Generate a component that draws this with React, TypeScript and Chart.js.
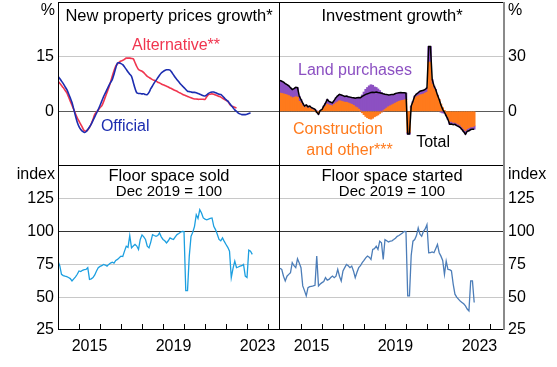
import React, { useEffect, useRef } from "react";
import { Chart, registerables } from "chart.js";

Chart.register(...registerables);

const FONT = "'Liberation Sans', Arial, Helvetica, sans-serif";
const W = 557;
const H = 367;

// Monthly series; first value is Dec 2013 (plotted at 2014.0)
const FIRST_MONTH = 2014;

const officialGrowth = [9.6, 9.0, 8.3, 7.6, 6.8, 6.0, 4.9, 3.7, 2.4, 0.6, -1.3, -3.0, -4.2, -5.0, -5.5, -5.8, -5.6, -5.0, -4.3, -3.5, -2.5, -1.5, -0.5, 0.5, 1.6, 2.8, 4.0, 5.0, 6.0, 7.0, 7.9, 8.7, 10.2, 11.9, 13.3, 13.3, 13.1, 12.8, 12.2, 11.5, 10.8, 10.2, 9.6, 8.0, 6.3, 5.1, 4.9, 4.9, 4.8, 4.8, 4.6, 4.6, 5.2, 6.2, 7.0, 7.8, 8.5, 9.2, 9.9, 10.5, 10.9, 11.2, 11.4, 11.4, 11.3, 10.7, 10.0, 9.3, 8.7, 8.1, 7.5, 7.0, 6.5, 6.0, 5.5, 5.4, 5.3, 5.2, 5.2, 5.1, 4.9, 4.7, 4.5, 4.3, 4.2, 4.5, 4.9, 5.2, 5.3, 5.3, 5.1, 4.9, 4.7, 4.6, 4.2, 3.7, 3.2, 2.8, 2.2, 1.6, 1.0, 0.4, 0.0, -0.5, -0.7, -0.9, -0.9, -0.9, -0.8, -0.6, -0.4];

const alternativeGrowth = [8.3, 7.7, 7.1, 6.5, 5.8, 5.1, 4.0, 2.8, 1.7, 0.5, -0.7, -1.8, -2.7, -3.6, -4.5, -5.3, -5.4, -5.1, -4.4, -3.4, -2.2, -0.8, -0.2, 0.4, 1.0, 1.5, 2.6, 3.9, 5.2, 6.5, 8.0, 9.6, 11.1, 12.4, 13.0, 13.5, 13.8, 14.0, 14.3, 14.6, 14.6, 14.6, 14.5, 14.4, 13.4, 12.3, 11.5, 11.2, 11.0, 10.6, 10.1, 9.6, 9.3, 9.0, 8.7, 8.5, 8.3, 8.0, 7.8, 7.5, 7.3, 7.1, 6.9, 6.7, 6.4, 6.2, 5.9, 5.7, 5.5, 5.2, 5.0, 4.7, 4.5, 4.3, 4.1, 3.9, 3.7, 3.5, 3.4, 3.4, 3.3, 3.3, 3.3, 3.3, 3.3, 4.0, 4.6, 4.7, 4.8, 4.7, 4.5, 4.3, 4.1, 3.9, 3.6, 3.3, 3.0, 2.8, 2.0, 1.5, 1.3, 1.1, 0.9];

const investTotal = [17.0, 16.5, 16.0, 15.2, 14.7, 14.0, 13.0, 12.0, 12.5, 13.2, 13.0, 8.4, 6.5, 4.5, 2.9, 3.5, 2.5, 2.9, 2.0, 1.6, 1.1, -0.5, -1.6, 0.5, 1.0, 2.9, 4.5, 6.5, 5.5, 5.0, 4.7, 6.0, 7.5, 8.5, 9.3, 9.0, 8.6, 8.2, 8.4, 8.0, 7.8, 7.6, 7.5, 7.2, 7.4, 7.6, 7.5, 8.2, 8.8, 9.3, 9.6, 10.0, 10.3, 10.5, 10.4, 10.6, 10.3, 10.2, 9.9, 9.6, 9.4, 9.3, 9.0, 9.1, 9.3, 9.3, 9.8, 10.0, 10.2, 10.3, 10.2, 10.2, 10.0, -12.5, -12.5, 2.9, 5.5, 8.4, 9.5, 10.2, 11.0, 11.3, 11.6, 12.0, 12.9, 35.6, 35.6, 17.5, 14.0, 12.0, 9.0, 6.5, 3.5, 1.1, -0.5, -2.5, -4.5, -7.1, -7.0, -7.3, -7.1, -7.8, -8.3, -8.9, -10.0, -11.2, -12.5, -11.0, -10.7, -10.0, -9.8, -9.8];

const investConstruction = [10.0, 9.8, 9.6, 9.3, 9.0, 8.6, 8.0, 7.4, 7.6, 8.0, 7.8, 5.5, 4.5, 3.0, 2.0, 2.5, 1.6, 2.0, 1.2, 0.8, 0.5, -0.6, -1.0, 0.3, 0.6, 1.8, 2.8, 4.0, 3.5, 3.2, 3.0, 3.8, 4.6, 5.2, 5.8, 5.6, 5.3, 5.0, 5.0, 4.6, 4.2, 3.8, 3.3, 2.5, 2.0, 1.2, 0.2, -0.8, -1.8, -2.8, -3.5, -4.0, -4.3, -3.8, -3.0, -2.5, -2.0, -1.2, -0.5, 0.2, 1.0, 1.8, 2.5, 3.0, 3.5, 4.0, 4.5, 5.0, 5.5, 5.8, 6.0, 6.2, 6.5, -11.5, -11.5, 2.0, 4.5, 7.0, 8.0, 8.5, 9.0, 9.2, 9.5, 10.0, 10.5, 27.0, 27.0, 15.0, 12.5, 11.0, 8.5, 6.5, 4.0, 2.0, 0.5, -1.5, -3.0, -5.5, -5.5, -6.0, -6.0, -6.5, -7.0, -7.5, -8.5, -9.5, -10.5, -9.5, -9.0, -8.5, -8.5, -8.0];

const investLand = [7.0, 6.7, 6.4, 5.9, 5.7, 5.4, 5.0, 4.6, 4.9, 5.2, 5.2, 2.9, 2.0, 1.5, 0.9, 1.0, 0.9, 0.9, 0.8, 0.8, 0.6, 0.1, -0.6, 0.2, 0.4, 1.1, 1.7, 2.5, 2.0, 1.8, 1.7, 2.2, 2.9, 3.3, 3.5, 3.4, 3.3, 3.2, 3.4, 3.4, 3.6, 3.8, 4.2, 4.7, 5.4, 6.4, 7.3, 9.0, 10.6, 12.1, 13.1, 14.0, 14.6, 14.3, 13.4, 13.1, 12.3, 11.4, 10.4, 9.4, 8.4, 7.5, 6.5, 6.1, 5.8, 5.3, 5.3, 5.0, 4.7, 4.5, 4.2, 4.0, 3.5, -1.0, -1.0, 0.9, 1.0, 1.4, 1.5, 1.7, 2.0, 2.1, 2.1, 2.0, 2.4, 8.6, 8.6, 2.5, 1.5, 1.0, 0.5, 0.0, -0.5, -0.9, -1.0, -1.0, -1.5, -1.6, -1.5, -1.3, -1.1, -1.3, -1.3, -1.4, -1.5, -1.7, -2.0, -1.5, -1.7, -1.5, -1.3, -1.8];

const floorSold = [77.5, 74, 67.4, 66.5, 66, 65.7, 65, 64.2, 62.4, 64, 65.5, 67.5, 70, 69.5, 70.5, 71, 71.2, 72.5, 63.6, 64, 64.9, 67, 70, 72.5, 73.5, 74, 75, 74.5, 73.7, 75, 76, 76.7, 76, 78, 78.8, 80, 81.3, 81, 85.1, 88.9, 88, 97, 87.6, 89, 90.2, 89, 86.4, 94, 97.5, 96, 94, 88.9, 87.6, 92, 97.7, 97, 96.4, 97, 99, 96, 94, 93, 91.4, 93, 95.2, 94.5, 94, 96, 97.7, 98.5, 99.5, 100.2, 100, 55, 55, 81.3, 96.4, 99.5, 104, 112.9, 110, 116.7, 114.2, 110.4, 109.5, 109, 109.5, 110, 110.4, 104, 101.5, 98, 94, 93, 95.2, 92.5, 90.2, 88, 85.1, 64.9, 72, 77.5, 72.5, 73, 73.7, 74, 75, 66.1, 65, 85.8, 85, 82.6];

const floorStarted = [72, 71.2, 66, 62.4, 66, 67.4, 68.7, 76.3, 74, 72.5, 79.3, 76, 72.5, 58.6, 55, 51, 57.3, 58, 58.3, 58.6, 59.1, 81.3, 58.6, 60, 61.1, 62, 64.9, 63, 63.6, 65, 66.1, 64.9, 66, 71.2, 66, 62.4, 70, 72.5, 75, 74, 72.5, 73.7, 70, 64.9, 69, 72.5, 74, 76.3, 78, 80, 81.3, 80.5, 78.8, 86.4, 87, 88.9, 86.4, 92.7, 91.5, 78.8, 93.9, 93, 92, 92.7, 93, 93.9, 95, 96.4, 97, 98, 99, 100.2, 100, 51, 51, 82, 92.7, 93.9, 97, 102.8, 98, 96.4, 100.2, 102, 105.3, 83.9, 84, 84.5, 83.9, 87, 90.2, 83.9, 81.3, 78, 67.4, 77.5, 71.2, 71, 70, 60, 52.3, 50, 48.5, 47, 46, 45, 43.4, 41, 39.6, 62.4, 62.4, 46];

const yearMarks = [2015, 2016, 2017, 2018, 2019, 2020, 2021, 2022, 2023, 2024];
const xLabelYears = [2015, 2019, 2023];

const C_OFFICIAL = "#1c2db0";
const C_ALT = "#f0354f";
const C_LAND = "#8c50c2";
const C_CONS = "#ff7a1c";
const C_SOLD = "#1c9fe0";
const C_STARTED = "#4c7db8";

const series = (vals: number[]) => vals.map((v, i) => ({ x: FIRST_MONTH + i / 12, y: v }));

const panelPlugin = {
  id: "panel",
  afterDraw(chart: any, _args: any, o: any) {
    const { ctx, chartArea: a, scales } = chart;
    const xs = scales.x;
    const ys = scales.y;
    ctx.save();
    ctx.textAlign = "center";
    ctx.textBaseline = "middle";
    ctx.font = `16px ${FONT}`;
    for (const l of o.labels || []) {
      ctx.fillStyle = l.color;
      ctx.fillText(l.text, xs.getPixelForValue(l.x), ys.getPixelForValue(l.y));
    }
    ctx.fillStyle = "#000";
    ctx.font = `16.5px ${FONT}`;
    const cx = (a.left + a.right) / 2;
    ctx.fillText(o.title, cx, a.top + o.titleDy);
    if (o.subtitle) {
      ctx.font = `15px ${FONT}`;
      ctx.fillText(o.subtitle, cx, a.top + o.subtitleDy);
    }
    ctx.font = `16px ${FONT}`;
    if (o.unitSide === "left") {
      ctx.textAlign = "right";
      ctx.fillText(o.unit, a.left - 3, a.top + o.unitDy);
    } else {
      ctx.textAlign = "left";
      ctx.fillText(o.unit, a.right + 4, a.top + o.unitDy);
    }
    ctx.lineWidth = 1;
    ctx.strokeStyle = "#000";
    if (o.yearMarks) {
      ctx.beginPath();
      for (const yr of o.yearMarks) {
        const px = Math.round(xs.getPixelForValue(yr)) + 0.5;
        if (px > a.left + 1 && px < a.right - 1) {
          ctx.moveTo(px, a.bottom);
          ctx.lineTo(px, a.bottom - 6);
        }
      }
      ctx.stroke();
    }
    const f = o.frame;
    const seg = (x1: number, y1: number, x2: number, y2: number, color: string, w: number) => {
      ctx.strokeStyle = color;
      ctx.lineWidth = w;
      ctx.beginPath();
      ctx.moveTo(x1, y1);
      ctx.lineTo(x2, y2);
      ctx.stroke();
    };
    const L = Math.round(a.left) + 0.5;
    const R = Math.round(a.right) - 0.5;
    const T = Math.round(a.top) + 0.5;
    const B = Math.round(a.bottom) - 0.5;
    if (f.top) seg(a.left, T, a.right, T, f.top, 1);
    if (f.bottom) seg(a.left, B, a.right, B, f.bottom, 1);
    if (f.left) seg(L, a.top, L, a.bottom, f.left, 1);
    if (f.right) seg(R, a.top, R, a.bottom, f.right, 1);
    if (f.rightGray) seg(Math.round(a.right), a.top, Math.round(a.right), a.bottom, f.rightGray, 2);
    ctx.restore();
  },
};

const gridColor = (strong: number, strongColor: string, hidden: number[]) => (c: any) => {
  const v = c.tick ? c.tick.value : null;
  if (v === null || hidden.includes(v)) return "rgba(0,0,0,0)";
  return v === strong ? strongColor : "#c8c8c8";
};

const tickFont = { family: FONT, size: 16 };

function yAxis(side: "left" | "right", min: number, max: number, step: number, strong: number, strongColor: string, shown: number[]) {
  return {
    position: side,
    min,
    max,
    afterFit: (s: any) => {
      s.width = side === "left" ? 58 : W - 504;
      s.paddingTop = 0;
      s.paddingBottom = 0;
    },
    ticks: {
      stepSize: step,
      font: tickFont,
      color: "#000",
      padding: 4,
      callback: (v: any) => (shown.includes(v) ? String(v) : ""),
    },
    grid: { drawTicks: false, color: gridColor(strong, strongColor, [min, max]), lineWidth: 1 },
    border: { display: false },
  };
}

function xAxisHidden(max: number) {
  return { type: "linear", display: false, min: 2014, max, offset: false };
}

function xAxisYears(max: number) {
  return {
    type: "linear",
    position: "bottom",
    min: 2014,
    max,
    offset: false,
    afterFit: (s: any) => {
      s.height = H - 330;
      s.paddingLeft = 0;
      s.paddingRight = 0;
    },
    afterBuildTicks: (s: any) => {
      s.ticks = xLabelYears.map((y) => ({ value: y + 0.5 }));
    },
    ticks: {
      font: tickFont,
      color: "#000",
      padding: 7,
      maxRotation: 0,
      autoSkip: false,
      callback: (v: any) => String(Math.floor(v)),
    },
    grid: { display: false, drawTicks: false },
    border: { display: false },
  };
}

const baseOpts = {
  responsive: false,
  animation: false,
  devicePixelRatio: 1,
  events: [],
};

function makeConfigs(): any[] {
  const tl = {
    type: "line",
    data: {
      datasets: [
        { data: series(officialGrowth), borderColor: C_OFFICIAL, borderWidth: 1.6, pointRadius: 0, tension: 0.3 },
        { data: series(alternativeGrowth), borderColor: C_ALT, borderWidth: 1.6, pointRadius: 0, tension: 0.3 },
      ],
    },
    options: {
      ...baseOpts,
      layout: { padding: { left: 0, top: 2, right: W - 280, bottom: H - 166 } },
      scales: {
        x: xAxisHidden(2024.57),
        y: yAxis("left", -15, 30, 15, 0, "#5a5a5a", [0, 15]),
      },
      plugins: {
        legend: { display: false },
        tooltip: { enabled: false },
        panel: {
          title: "New property prices growth*",
          titleDy: 14,
          unit: "%",
          unitSide: "left",
          unitDy: 9,
          labels: [
            { text: "Alternative**", x: 2019.62, y: 18, color: C_ALT },
            { text: "Official", x: 2017.2, y: -4.2, color: C_OFFICIAL },
          ],
          frame: { top: "#000", bottom: "#000", left: "#000", right: "#000" },
        },
      },
    },
    plugins: [panelPlugin],
  };

  const tr = {
    type: "bar",
    data: {
      datasets: [
        { type: "line", label: "Total", data: series(investTotal), borderColor: "#000", borderWidth: 1.5, pointRadius: 0, tension: 0, stack: "total" },
        { type: "bar", label: "Construction and other", data: series(investConstruction), backgroundColor: C_CONS, stack: "inv", barThickness: 2 },
        { type: "bar", label: "Land purchases", data: series(investLand), backgroundColor: C_LAND, stack: "inv", barThickness: 2 },
      ],
    },
    options: {
      ...baseOpts,
      layout: { padding: { left: 280, top: 2, right: 0, bottom: H - 166 } },
      scales: {
        x: { ...xAxisHidden(2024.67), stacked: true },
        y: { ...yAxis("right", -30, 60, 30, 0, "#5a5a5a", [0, 30]), stacked: true },
      },
      plugins: {
        legend: { display: false },
        tooltip: { enabled: false },
        panel: {
          title: "Investment growth*",
          titleDy: 14,
          unit: "%",
          unitSide: "right",
          unitDy: 9,
          labels: [
            { text: "Land purchases", x: 2017.57, y: 22.4, color: C_LAND },
            { text: "Construction", x: 2016.76, y: -9.8, color: C_CONS },
            { text: "and other***", x: 2017.31, y: -21.3, color: C_CONS },
            { text: "Total", x: 2021.29, y: -17.2, color: "#000" },
          ],
          frame: { top: "#000", bottom: "#000", rightGray: "#8a8a8a" },
        },
      },
    },
    plugins: [panelPlugin],
  };

  const bl = {
    type: "line",
    data: {
      datasets: [{ data: series(floorSold), borderColor: C_SOLD, borderWidth: 1.3, pointRadius: 0, tension: 0 }],
    },
    options: {
      ...baseOpts,
      layout: { padding: { left: 0, top: 166, right: W - 280, bottom: 0 } },
      scales: {
        x: xAxisYears(2024.57),
        y: yAxis("left", 25, 150, 25, 100, "#333333", [25, 50, 75, 100, 125]),
      },
      plugins: {
        legend: { display: false },
        tooltip: { enabled: false },
        panel: {
          title: "Floor space sold",
          titleDy: 10,
          subtitle: "Dec 2019 = 100",
          subtitleDy: 26,
          unit: "index",
          unitSide: "left",
          unitDy: 9,
          yearMarks,
          labels: [],
          frame: { bottom: "#000", left: "#000", right: "#000" },
        },
      },
    },
    plugins: [panelPlugin],
  };

  const br = {
    type: "line",
    data: {
      datasets: [{ data: series(floorStarted), borderColor: C_STARTED, borderWidth: 1.3, pointRadius: 0, tension: 0 }],
    },
    options: {
      ...baseOpts,
      layout: { padding: { left: 280, top: 166, right: 0, bottom: 0 } },
      scales: {
        x: xAxisYears(2024.67),
        y: yAxis("right", 25, 150, 25, 100, "#333333", [25, 50, 75, 100, 125]),
      },
      plugins: {
        legend: { display: false },
        tooltip: { enabled: false },
        panel: {
          title: "Floor space started",
          titleDy: 10,
          subtitle: "Dec 2019 = 100",
          subtitleDy: 26,
          unit: "index",
          unitSide: "right",
          unitDy: 9,
          yearMarks,
          labels: [],
          frame: { bottom: "#000", rightGray: "#8a8a8a" },
        },
      },
    },
    plugins: [panelPlugin],
  };

  return [tl, tr, bl, br];
}

export default function App() {
  const r0 = useRef<HTMLCanvasElement>(null);
  const r1 = useRef<HTMLCanvasElement>(null);
  const r2 = useRef<HTMLCanvasElement>(null);
  const r3 = useRef<HTMLCanvasElement>(null);
  const refs = [r0, r1, r2, r3];

  useEffect(() => {
    const cfgs = makeConfigs();
    const charts = refs.map((r, i) => new Chart(r.current as HTMLCanvasElement, cfgs[i]));
    return () => charts.forEach((c) => c.destroy());
  }, []);

  return (
    <div style={{ position: "fixed", left: 0, top: 0, width: W, height: H, background: "#fff" }}>
      {refs.map((r, i) => (
        <canvas key={i} ref={r} width={W} height={H} style={{ position: "absolute", left: 0, top: 0, width: W, height: H }} />
      ))}
    </div>
  );
}
